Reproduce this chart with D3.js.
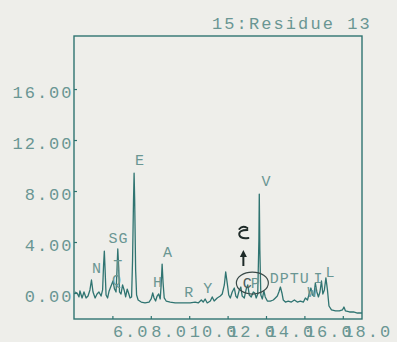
<!DOCTYPE html>
<html>
<head>
<meta charset="utf-8">
<script src="https://cdn.jsdelivr.net/npm/d3@7"></script>
<style>
  html, body { margin: 0; padding: 0; background: #eeeeea; }
  svg { display: block; }
  text { font-family: 'Liberation Mono', 'Courier New', monospace; }
</style>
</head>
<body>
<svg id="chart" width="397" height="342"></svg>
<script>
// ---- data ----
const title = "15:Residue 13";
const yTicks = [0, 4, 8, 12, 16];
const xTicks = [6, 8, 10, 12, 14, 16, 18];

const times = [4.05,4.16,4.26,4.31,4.42,4.52,4.63,4.73,4.83,4.91,4.99,5.10,5.20,5.30,5.41,5.49,5.54,5.58,5.62,5.67,
  5.75,5.83,5.93,6.03,6.11,6.19,6.24,6.28,6.33,6.37,6.45,6.53,6.61,6.69,6.77,6.84,6.92,7.00,7.05,7.10,
  7.13,7.16,7.21,7.26,7.34,7.50,7.70,7.91,8.02,8.10,8.17,8.25,8.33,8.41,8.49,8.54,8.59,8.64,8.70,8.80,
  9.01,9.27,9.53,9.79,10.05,10.31,10.47,10.63,10.73,10.83,10.94,11.10,11.20,11.30,11.46,11.62,11.72,11.83,11.90,11.98,
  12.06,12.14,12.24,12.35,12.43,12.50,12.61,12.69,12.76,12.87,12.97,13.05,13.13,13.23,13.34,13.42,13.49,13.57,13.63,13.65,
  13.68,13.73,13.81,13.89,13.96,14.07,14.23,14.38,14.49,14.59,14.67,14.75,14.83,14.90,15.01,15.16,15.32,15.48,15.63,15.79,
  15.95,16.05,16.16,16.26,16.34,16.42,16.49,16.57,16.65,16.73,16.81,16.89,16.96,17.04,17.12,17.20,17.28,17.41,17.62,17.82,
  17.98,18.06,18.14,18.35,18.56,18.76,18.92,19.00];
const signal = [0.08,0,-0.31,0.16,-0.39,0.08,-0.39,-0.24,0.24,1.02,0.08,-0.39,-0.08,0.08,-0.24,0.24,2.20,3.29,1.80,-0.16,
  -0.39,0.16,0.55,0.94,0.31,0.08,1.80,3.45,1.96,0.08,-0.08,0.63,0.24,-0.31,0.31,0,-0.39,-0.31,2.59,7.29,
  9.41,7.29,1.80,-0.16,-0.55,-0.71,-0.78,-0.71,-0.47,0,-0.39,-0.63,-0.24,-0.08,-0.47,0.63,2.27,0.78,-0.39,-0.63,
  -0.71,-0.78,-0.78,-0.78,-0.78,-0.71,-0.78,-0.55,-0.71,-0.47,-0.78,-0.63,-0.31,-0.63,-0.39,-0.24,-0.08,0.63,1.65,0.78,
  -0.16,-0.39,0.08,0.39,-0.24,-0.39,0.24,0.47,-0.24,-0.39,0.31,0.63,-0.16,-0.31,0.08,0,-0.39,-0.08,4.16,7.76,
  3.37,-0.16,-0.47,0.16,-0.31,-0.63,-0.63,-0.55,-0.39,-0.24,0.08,0.47,0,-0.55,-0.71,-0.63,-0.71,-0.55,-0.71,-0.63,
  -0.71,-0.39,-0.55,0,0.39,-0.16,-0.24,0.78,0.08,-0.31,0.08,0.94,-0.08,0.24,1.18,0.24,-1.02,-1.33,-1.41,-1.41,
  -1.33,-1.10,-1.41,-1.49,-1.49,-1.57,-1.57,-1.57];

// peak annotation labels: text, time, value (baseline of the label)
const peakNames = ["N","SG","T","Q","E","H","A","R","Y","V","DPTU","I","L","W"];
const peakTimes = [5.20,6.32,6.30,6.24,7.44,8.38,8.90,10.00,10.99,14.02,15.24,16.73,17.36,16.42];
const peakValues = [1.57,3.92,1.80,0.63,10.04,0.47,2.82,-0.31,0.00,8.39,0.78,0.78,1.25,-0.31];
// circled hand-marked peak
const markNames = ["C","P"];
const markTimes = [13.03,13.44];
const markValues = [0.39,0.39];
const circleAt = [13.29, 0.78];

// ---- layout ----
const mLeft = 74, mRight = 362, mTop = 36, mBottom = 319;
const svg = d3.select("#chart");
const teal = "#2f7471", textCol = "#6a9693";

const x = d3.scaleLinear().domain([4, 19]).range([mLeft, mRight]);
const y = d3.scaleLinear().domain([-2.04, 20.16]).range([mBottom, mTop]);

// frame
svg.append("rect").attr("x", mLeft).attr("y", mTop)
  .attr("width", mRight - mLeft).attr("height", mBottom - mTop)
  .attr("fill", "none").attr("stroke", teal).attr("stroke-width", 1.4);

// axes
const yAxis = svg.append("g").attr("transform", `translate(${mLeft},0)`)
  .call(d3.axisLeft(y).tickValues(yTicks).tickFormat(d3.format(".2f")).tickSize(-3).tickSizeOuter(0).tickPadding(0.5));
const xAxis = svg.append("g").attr("transform", `translate(0,${mBottom})`)
  .call(d3.axisBottom(x).tickValues(xTicks).tickFormat(d3.format(".1f")).tickSize(-3).tickSizeOuter(0));
[yAxis, xAxis].forEach(g => {
  g.select(".domain").remove();
  g.selectAll(".tick line").attr("stroke", teal).attr("stroke-width", 1.2);
  g.selectAll(".tick text").attr("fill", textCol).attr("font-size", 17)
    .attr("letter-spacing", 2).style("font-family", "'Liberation Mono', 'Courier New', monospace");
});
yAxis.selectAll(".tick text").attr("dy", "0.5em");
xAxis.selectAll(".tick text").attr("text-anchor", "start").attr("x", 0).attr("y", 18).attr("dy", 0);

// title
svg.append("text").attr("x", 212).attr("y", 29).text(title)
  .attr("fill", textCol).attr("font-size", 17).attr("letter-spacing", 2.1);

// trace
const pts = times.map((t, i) => [t, signal[i]]);
svg.append("path").datum(pts)
  .attr("d", d3.line().x(d => x(d[0])).y(d => y(d[1])))
  .attr("fill", "none").attr("stroke", teal).attr("stroke-width", 1.3)
  .attr("stroke-linejoin", "round");

// peak labels
svg.append("g").selectAll("text").data(peakNames).join("text")
  .attr("x", (d, i) => x(peakTimes[i])).attr("y", (d, i) => y(peakValues[i]))
  .attr("text-anchor", "middle").attr("font-size", 15).attr("letter-spacing", 1)
  .attr("fill", textCol).text(d => d);

// hand-drawn circled mark
svg.append("g").selectAll("text").data(markNames).join("text")
  .attr("x", (d, i) => x(markTimes[i])).attr("y", (d, i) => y(markValues[i]))
  .attr("text-anchor", "middle").attr("font-size", 15)
  .attr("fill", (d, i) => i === 0 ? "#4a5a58" : textCol).text(d => d);
svg.append("ellipse").attr("cx", x(circleAt[0])).attr("cy", y(circleAt[1]))
  .attr("rx", 16).attr("ry", 11).attr("fill", "none")
  .attr("stroke", "#3a4a48").attr("stroke-width", 1.2);

// arrow and hand-written symbol above it
const ax = x(circleAt[0]) - 9;
svg.append("line").attr("x1", ax).attr("x2", ax).attr("y1", 266).attr("y2", 255)
  .attr("stroke", "#1e2a28").attr("stroke-width", 2);
svg.append("path").attr("d", `M${ax - 3.5},257 L${ax},250 L${ax + 3.5},257 Z`).attr("fill", "#1e2a28");
svg.append("path")
  .attr("d", `M${ax - 4},229 q3,-4 8,-1 M${ax + 4},230 q-9,0 -8,5 q1,4 9,3`)
  .attr("fill", "none").attr("stroke", "#1e2a28").attr("stroke-width", 2).attr("stroke-linecap", "round");
</script>
</body>
</html>
